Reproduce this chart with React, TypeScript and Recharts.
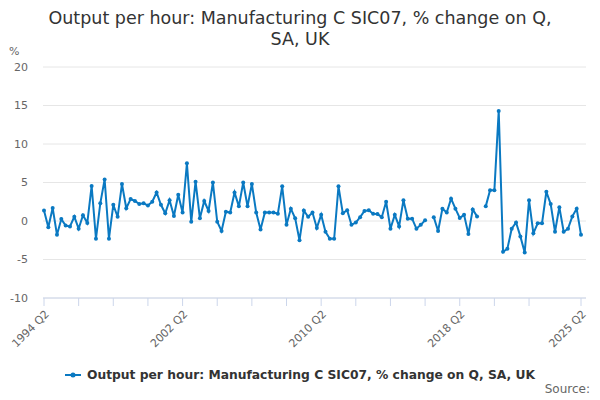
import { LineChart, Line, XAxis, YAxis, CartesianGrid } from 'recharts'

// quarterly % change, 1994 Q2 to 2025 Q2 (null = no value published)
const values: (number | null)[] = [
  1.35, -0.8, 1.7,
  -1.8, 0.25, -0.6, -0.7,
  0.55, -1.0, 0.75, -0.25,
  4.55, -2.3, 2.3, 5.4,
  -2.3, 2.1, 0.55, 4.8,
  1.65, 2.85, 2.6, 2.2,
  2.3, 2.0, 2.5, 3.7,
  2.1, 1.0, 2.7, 0.65,
  3.4, 1.1, 7.5, -0.1,
  5.1, 0.35, 2.6, 1.3,
  5.0, -0.1, -1.3, 1.2,
  1.1, 3.7, 1.9, 5.0,
  1.9, 4.8, 1.1, -1.1,
  1.1, 1.1, 1.1, 0.95,
  4.5, -0.5, 1.6, 0.35,
  -2.5, 1.35, 0.55, 1.1,
  -0.9, 0.8, -1.4, -2.3,
  -2.3, 4.5, 1.0, 1.4,
  -0.5, -0.2, 0.5, 1.3,
  1.4, 0.95, 0.9, 0.5,
  2.5, -1.0, 0.8, -0.7,
  2.7, 0.3, 0.3, -1.0,
  -0.5, 0.1, null, 0.5,
  -1.3, 1.6, 1.1, 2.9,
  1.6, 0.4, 0.8, -1.7,
  1.5, 0.6, null, 1.9,
  4.0, 4.0, 14.3, -4.0,
  -3.6, -1.0, -0.2, -2.0,
  -4.1, 2.7, -1.6, -0.3,
  -0.3, 3.8, 2.2, -1.4,
  1.8, -1.4, -1.0, 0.6,
  1.6, -1.8,
]

const firstYear = 1994
const firstQuarter = 2

const quarters = values.map((_, i) => {
  const q = firstQuarter - 1 + i
  return `${firstYear + Math.floor(q / 4)} Q${(q % 4) + 1}`
})

const tickQuarters = [
  '1994 Q2', '1996 Q2', '1998 Q2', '2000 Q2', '2002 Q2', '2004 Q2', '2006 Q2', '2008 Q2',
  '2010 Q2', '2012 Q2', '2014 Q2', '2016 Q2', '2018 Q2', '2020 Q2', '2022 Q2', '2025 Q2',
]
const labelledQuarters = ['1994 Q2', '2002 Q2', '2010 Q2', '2018 Q2', '2025 Q2']
const yTicks = [-10, -5, 0, 5, 10, 15, 20]

const seriesName = 'Output per hour: Manufacturing C SIC07, % change on Q, SA, UK'
const lineColor = '#0a79c2'
const font = '"DejaVu Sans", sans-serif'

const data = quarters.map((quarter, i) => ({ quarter, value: values[i] }))

function QuarterTick(props: any) {
  const { x, y, payload } = props
  if (!labelledQuarters.includes(payload.value)) return null
  return (
    <g transform={`translate(${x + 3},${y + 4})`}>
      <text
        textAnchor="end"
        transform="rotate(-45)"
        dy="0.35em"
        fill="#666666"
        fontSize={11}
        fontFamily={font}
      >
        {payload.value}
      </text>
    </g>
  )
}

export default function App() {
  return (
    <div style={{ position: 'absolute', left: 0, top: 0, width: 600, height: 400, background: '#fff', fontFamily: font }}>
      <div style={{ position: 'absolute', top: 8, left: 0, width: 600, textAlign: 'center', fontSize: 17.5, lineHeight: '21px', color: '#333333' }}>
        Output per hour: Manufacturing C SIC07, % change on Q,
        <br />
        SA, UK
      </div>
      <div style={{ position: 'absolute', top: 45, left: 9, fontSize: 11, color: '#666666' }}>%</div>

      <LineChart width={600} height={400} data={data} margin={{ top: 67, right: 14, bottom: 0, left: 0 }}>
        <CartesianGrid vertical={false} stroke="#e6e6e6" />
        <XAxis
          dataKey="quarter"
          ticks={tickQuarters}
          interval={0}
          height={102}
          padding={{ left: 1, right: 5 }}
          axisLine={{ stroke: '#ccd6eb' }}
          tickLine={{ stroke: '#ccd6eb' }}
          tickSize={8}
          tick={<QuarterTick />}
        />
        <YAxis
          domain={[-10, 20]}
          ticks={yTicks}
          width={43}
          axisLine={false}
          tickLine={false}
          tickMargin={9}
          tick={{ fill: '#666666', fontSize: 11, fontFamily: font }}
        />
        <Line
          dataKey="value"
          stroke={lineColor}
          strokeWidth={2}
          dot={{ r: 2, fill: lineColor, stroke: lineColor, strokeWidth: 0 }}
          activeDot={false}
          isAnimationActive={false}
        />
      </LineChart>

      <div style={{ position: 'absolute', top: 368, left: 0, width: 600, display: 'flex', justifyContent: 'center', alignItems: 'center' }}>
        <svg width={16} height={10} style={{ marginRight: 6 }}>
          <line x1={0} y1={5} x2={16} y2={5} stroke={lineColor} strokeWidth={2} />
          <circle cx={8} cy={5} r={2.5} fill={lineColor} />
        </svg>
        <span style={{ fontSize: 12.3, fontWeight: 'bold', color: '#333333' }}>{seriesName}</span>
      </div>
      <div style={{ position: 'absolute', top: 382, right: 10, fontSize: 12, color: '#666666' }}>Source:</div>
    </div>
  )
}
